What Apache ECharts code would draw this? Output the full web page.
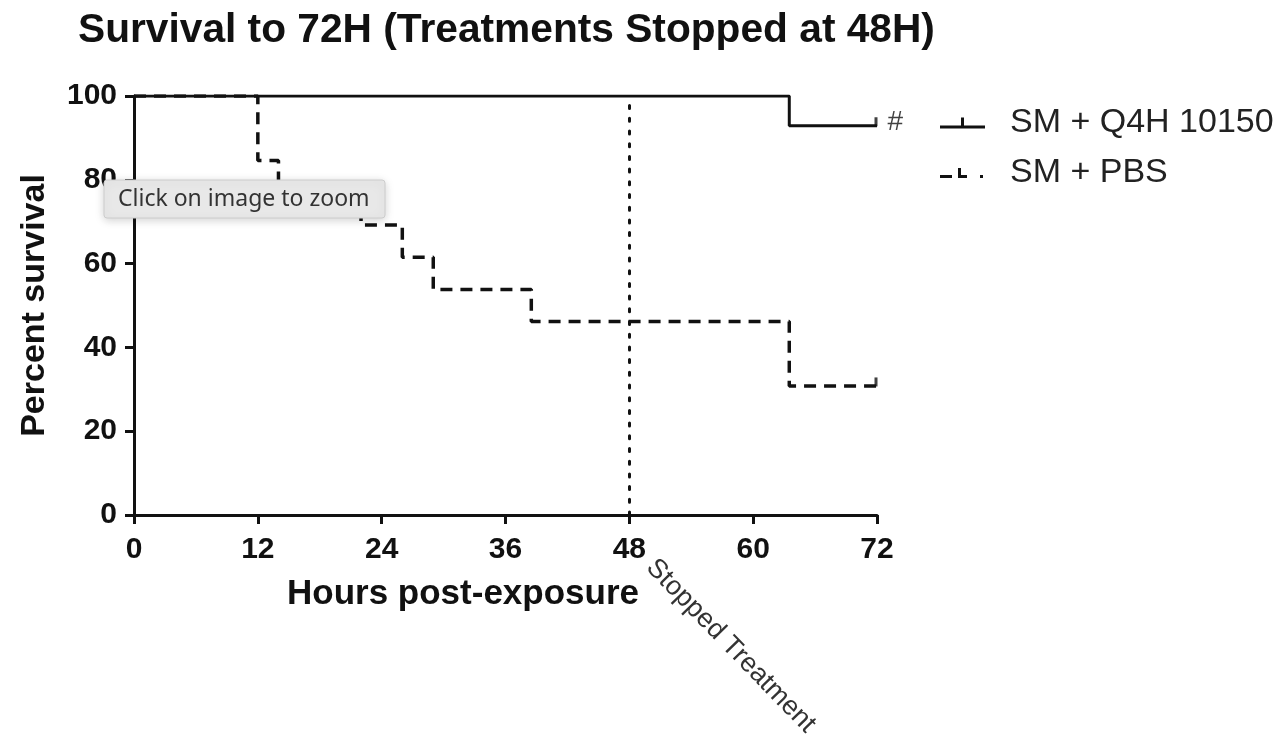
<!DOCTYPE html>
<html>
<head>
<meta charset="utf-8">
<script src="https://cdn.jsdelivr.net/npm/echarts@6/dist/echarts.min.js"></script>
<style>
  html, body { margin: 0; padding: 0; background: #fff; }
  #chart { width: 1279px; height: 738px; }
</style>
</head>
<body>
<div id="chart"></div>
<script>
// ---- data ----
const titleText = 'Survival to 72H (Treatments Stopped at 48H)';
const seriesNames = ['SM + Q4H 10150', 'SM + PBS'];
const hours10150 = [0, 63.5, 72];
const surv10150 = [100, 92.9, 92.9];
const hoursPBS = [0, 12, 14, 22, 26, 29, 38.5, 63.5, 72];
const survPBS = [100, 84.6, 76.9, 69.2, 61.5, 53.8, 46.2, 30.8, 30.8];
const xTicks = [0, 12, 24, 36, 48, 60, 72];
const yTicks = [0, 20, 40, 60, 80, 100];
const stopHour = 48;
const stopLabel = 'Stopped Treatment';
const sigMark = '#';
const overlayText = 'Click on image to zoom';

const pair = (xs, ys) => xs.map((x, i) => [x, ys[i]]);
const last = (xs, ys) => [[xs[xs.length - 1], ys[ys.length - 1]]];

const chart = echarts.init(document.getElementById('chart'));
const FONT = "'Liberation Sans', Arial, Helvetica, sans-serif";
const INK = '#111';

const option = {
  backgroundColor: '#fff',
  animation: false,
  title: {
    text: titleText,
    left: 78, top: 10, padding: 0,
    textStyle: { fontFamily: FONT, fontSize: 40.7, fontWeight: 'bold', color: INK }
  },
  legend: {
    orient: 'vertical',
    left: 935, top: 101,
    itemWidth: 45, itemHeight: 16, itemGap: 16,
    textStyle: { fontFamily: FONT, fontSize: 34, color: '#222', padding: [0, 0, 0, 20] },
    data: [
      { name: seriesNames[0], icon: 'path://M0,11h45v3h-45z M21,3h3v9h-3z', itemStyle: { color: INK } },
      { name: seriesNames[1], icon: 'path://M0,11h12v3h-12z M18,4h3v10h-3z M18,11h9v3h-9z M40,11h3v3h-3z M45,14h0v0z', itemStyle: { color: INK } }
    ]
  },
  grid: { left: 134, right: 402, top: 96, bottom: 223, containLabel: false },
  xAxis: {
    type: 'value', min: xTicks[0], max: xTicks[xTicks.length - 1], interval: 12,
    name: 'Hours post-exposure', nameLocation: 'middle', nameGap: 62,
    nameTextStyle: { fontFamily: FONT, fontSize: 35, fontWeight: 'bold', color: INK, padding: [0, 85, 0, 0] },
    axisLine: { show: true, lineStyle: { color: INK, width: 3 } },
    axisTick: { show: true, length: 9, lineStyle: { color: INK, width: 3 } },
    axisLabel: { fontFamily: FONT, fontSize: 30, fontWeight: 'bold', color: INK, margin: 20 },
    splitLine: { show: false }
  },
  yAxis: {
    type: 'value', min: yTicks[0], max: yTicks[yTicks.length - 1], interval: 20,
    name: 'Percent survival', nameLocation: 'middle', nameGap: 82, nameRotate: 90,
    nameTextStyle: { fontFamily: FONT, fontSize: 34, fontWeight: 'bold', color: INK },
    axisLine: { show: true, lineStyle: { color: INK, width: 3 } },
    axisTick: { show: true, length: 9, lineStyle: { color: INK, width: 3 } },
    axisLabel: { fontFamily: FONT, fontSize: 30, fontWeight: 'bold', color: INK, margin: 17 },
    splitLine: { show: false }
  },
  series: [
    {
      name: seriesNames[0], type: 'line', step: 'end', showSymbol: false, z: 2,
      data: pair(hours10150, surv10150),
      lineStyle: { color: INK, width: 3, type: 'solid' },
      itemStyle: { color: INK }
    },
    {
      name: seriesNames[1], type: 'line', step: 'end', showSymbol: false, z: 3,
      data: pair(hoursPBS, survPBS),
      lineStyle: { color: INK, width: 3.5, type: [12, 8] },
      itemStyle: { color: INK },
      markLine: {
        silent: true, symbol: 'none',
        label: { show: false },
        lineStyle: { color: INK, width: 3, type: [3, 9.7], cap: 'round' },
        data: [{ xAxis: stopHour }]
      }
    },
    {
      name: 'censor10150', type: 'scatter', z: 4,
      data: last(hours10150, surv10150),
      symbol: 'rect', symbolSize: [3, 9], symbolOffset: [-1, -4],
      itemStyle: { color: INK },
      label: { show: true, position: 'right', distance: 10, formatter: sigMark,
               fontFamily: FONT, fontSize: 28, color: INK, offset: [0, 1] }
    },
    {
      name: 'censorPBS', type: 'scatter', z: 4,
      data: last(hoursPBS, survPBS),
      symbol: 'rect', symbolSize: [3, 9], symbolOffset: [-1, -4],
      itemStyle: { color: INK }
    }
  ],
  graphic: []
};

chart.setOption(option);

// annotation text under the 48h tick, rotated
const p48 = chart.convertToPixel({ gridIndex: 0 }, [stopHour, 0]);
chart.setOption({
  graphic: [
    {
      type: 'text', x: p48[0] + 31, y: p48[1] + 39, rotation: -0.80, z: 10,
      style: { text: stopLabel, fontFamily: FONT, fontSize: 27, fill: '#333',
               textAlign: 'left', textVerticalAlign: 'top' }
    },
    {
      type: 'rect', x: 104, y: 180, zlevel: 5, z: 100,
      shape: { x: 0, y: 0, width: 281, height: 38, r: 3 },
      style: { fill: '#e8e8e8', stroke: '#cccccc', lineWidth: 1,
               shadowBlur: 10, shadowColor: 'rgba(0,0,0,0.18)', shadowOffsetY: 2 }
    },
    {
      type: 'text', x: 118, y: 199, zlevel: 5, z: 101,
      style: { text: overlayText, fontFamily: "'Noto Sans', 'Liberation Sans', Arial, sans-serif", fontSize: 23,
               fill: '#333', textAlign: 'left', textVerticalAlign: 'middle' }
    }
  ]
});
</script>
</body>
</html>
